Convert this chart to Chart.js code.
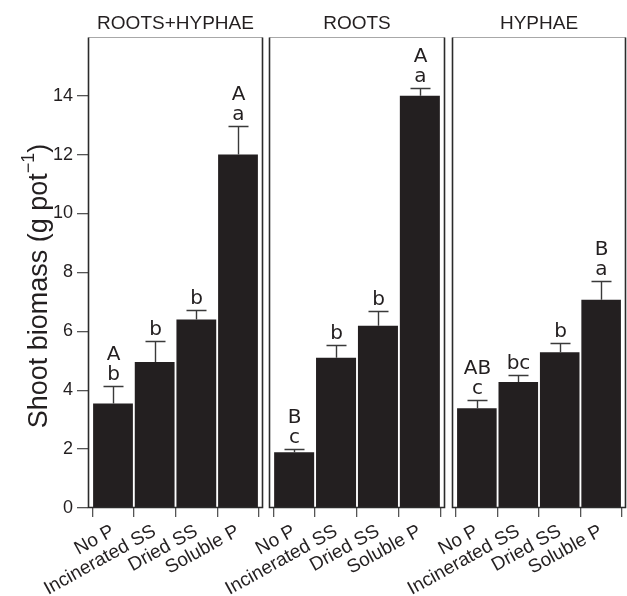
<!DOCTYPE html>
<html>
<head>
<meta charset="utf-8">
<title>Shoot biomass</title>
<script src="https://cdn.jsdelivr.net/npm/chart.js@4.4.1/dist/chart.umd.min.js"></script>
<style>
  html, body { margin: 0; padding: 0; background: #fff; }
  #wrap { position: relative; width: 627px; height: 596px; }
  #wrap canvas { position: absolute; left: 0; top: 0; width: 627px; height: 596px; }
</style>
</head>
<body>
<div id="wrap">
  <canvas id="panel1" width="627" height="596"></canvas>
  <canvas id="panel2" width="627" height="596"></canvas>
  <canvas id="panel3" width="627" height="596"></canvas>
</div>
<script>
// Treatments (x categories) and panel headings
const treatments = ['No P', 'Incinerated SS', 'Dried SS', 'Soluble P'];
const panelTitles = ['ROOTS+HYPHAE', 'ROOTS', 'HYPHAE'];

// Shoot biomass means (g pot-1) and standard errors per compartment
const rootsHyphaeMean = [3.55, 4.96, 6.40, 12.00];
const rootsHyphaeSE   = [0.60, 0.72, 0.33, 0.97];
const rootsMean       = [1.89, 5.10, 6.19, 14.00];
const rootsSE         = [0.12, 0.45, 0.49, 0.25];
const hyphaeMean      = [3.39, 4.28, 5.29, 7.07];
const hyphaeSE        = [0.29, 0.24, 0.31, 0.65];

// Significance letters: upper-case across compartments, lower-case within
const rootsHyphaeUpper = ['A', '', '', 'A'];
const rootsHyphaeLower = ['b', 'b', 'b', 'a'];
const rootsUpper       = ['B', '', '', 'A'];
const rootsLower       = ['c', 'b', 'b', 'a'];
const hyphaeUpper      = ['AB', '', '', 'B'];
const hyphaeLower      = ['c', 'bc', 'b', 'a'];

// Y axis
const yTicks = [0, 2, 4, 6, 8, 10, 12, 14];
const yMax = 16;

const FONT = '"Liberation Sans", Arial, Helvetica, sans-serif';
const LETTER_FONT = '"DejaVu Sans", Verdana, sans-serif';
const INK = '#231f20';
Chart.defaults.font.family = FONT;
Chart.defaults.color = INK;

const W = 627, AXIS_H = 88, Y_AXIS_W = 88;

// Horizontal extent of each panel's plotting box
const panelAreas = [[88, 263], [269, 445], [452, 626]];

function errorBarsAndLetters(mean, se, upper, lower) {
  return {
    id: 'errorBarsAndLetters',
    afterDatasetsDraw(chart) {
      const { ctx, scales: { x, y } } = chart;
      ctx.save();
      ctx.strokeStyle = '#3a3a3a';
      ctx.lineWidth = 1.4;
      ctx.fillStyle = INK;
      ctx.font = '20px ' + LETTER_FONT;
      ctx.textAlign = 'center';
      ctx.textBaseline = 'alphabetic';
      mean.forEach((m, i) => {
        const px = Math.round(x.getPixelForValue(i)) + 0.5;
        const base = y.getPixelForValue(m);
        const top = Math.round(y.getPixelForValue(m + se[i])) + 0.5;
        ctx.beginPath();
        ctx.moveTo(px, base);
        ctx.lineTo(px, top);
        ctx.moveTo(px - 10, top);
        ctx.lineTo(px + 10, top);
        ctx.stroke();
        ctx.fillText(lower[i], px, top - 7);
        if (upper[i]) ctx.fillText(upper[i], px, top - 27);
      });
      ctx.restore();
    }
  };
}

const panelFrame = {
  id: 'panelFrame',
  afterDatasetsDraw(chart) {
    const { ctx, chartArea: a } = chart;
    const l = Math.round(a.left) + 0.5, r = Math.round(a.right) - 0.5;
    const t = Math.round(a.top) + 0.5, b = Math.round(a.bottom) - 0.5;
    ctx.save();
    ctx.strokeStyle = '#a8a8a8';
    ctx.lineWidth = 1;
    ctx.beginPath(); ctx.moveTo(l, t); ctx.lineTo(r, t); ctx.stroke();
    ctx.strokeStyle = '#2b2b2b';
    ctx.lineWidth = 1.6;
    ctx.beginPath();
    ctx.moveTo(l, t); ctx.lineTo(l, b); ctx.lineTo(r, b); ctx.lineTo(r, t);
    ctx.stroke();
    ctx.restore();
  }
};

// Rotated y-axis title with a superscript exponent
const yAxisTitle = {
  id: 'yAxisTitle',
  afterDraw(chart) {
    const { ctx } = chart;
    const main = 'Shoot biomass (g pot', sup = '\u22121', close = ')';
    const mainFont = '27px ' + FONT, supFont = '18px ' + FONT;
    ctx.save();
    ctx.fillStyle = INK;
    ctx.font = mainFont;
    const wMain = ctx.measureText(main).width;
    const wClose = ctx.measureText(close).width;
    ctx.font = supFont;
    const wSup = ctx.measureText(sup).width;
    const total = wMain + wSup + wClose;
    ctx.translate(47, 286);
    ctx.rotate(-Math.PI / 2);
    ctx.textBaseline = 'alphabetic';
    ctx.textAlign = 'left';
    let x0 = -total / 2;
    ctx.font = mainFont;
    ctx.fillText(main, x0, 0);
    x0 += wMain;
    ctx.font = supFont;
    ctx.fillText(sup, x0, -13);
    x0 += wSup;
    ctx.font = mainFont;
    ctx.fillText(close, x0, 0);
    ctx.restore();
  }
};

function makePanel(id, idx, mean, se, upper, lower) {
  const [left, right] = panelAreas[idx];
  const showY = idx === 0;
  const plugins = [errorBarsAndLetters(mean, se, upper, lower), panelFrame];
  if (showY) plugins.push(yAxisTitle);
  return new Chart(document.getElementById(id), {
    type: 'bar',
    data: {
      datasets: [{
        data: mean.map((v, i) => ({ x: i, y: v })),
        backgroundColor: INK,
        borderWidth: 0,
        barPercentage: 0.955,
        categoryPercentage: 1
      }]
    },
    options: {
      responsive: false,
      animation: false,
      devicePixelRatio: 1,
      layout: { padding: { left: showY ? left - Y_AXIS_W : left, right: W - right, top: 0, bottom: 0 } },
      scales: {
        x: {
          type: 'linear',
          min: -0.6,
          max: 3.6,
          offset: false,
          afterBuildTicks: s => { s.ticks = treatments.map((_, i) => ({ value: i })); },
          afterFit: s => { s.height = AXIS_H; },
          border: { display: false },
          grid: { drawOnChartArea: false, drawTicks: true, tickLength: 9, color: '#555', lineWidth: 1.3 },
          ticks: {
            autoSkip: false,
            minRotation: 29,
            maxRotation: 29,
            padding: 3,
            color: INK,
            font: { size: 19 },
            callback: v => treatments[v]
          }
        },
        y: {
          min: 0,
          max: yMax,
          display: showY,
          afterBuildTicks: s => { s.ticks = yTicks.map(v => ({ value: v })); },
          afterFit: s => { s.width = showY ? Y_AXIS_W : 0; },
          border: { display: false },
          grid: { drawOnChartArea: false, drawTicks: true, tickLength: 11, color: '#555', lineWidth: 1.3 },
          ticks: { padding: 4, color: INK, font: { size: 18 } }
        }
      },
      plugins: {
        legend: { display: false },
        tooltip: { enabled: false },
        title: {
          display: true,
          text: panelTitles[idx],
          fullSize: false,
          color: INK,
          font: { size: 19, weight: 'normal' },
          padding: { top: 12, bottom: 2 }
        }
      }
    },
    plugins
  });
}

makePanel('panel1', 0, rootsHyphaeMean, rootsHyphaeSE, rootsHyphaeUpper, rootsHyphaeLower);
makePanel('panel2', 1, rootsMean, rootsSE, rootsUpper, rootsLower);
makePanel('panel3', 2, hyphaeMean, hyphaeSE, hyphaeUpper, hyphaeLower);
</script>
</body>
</html>
